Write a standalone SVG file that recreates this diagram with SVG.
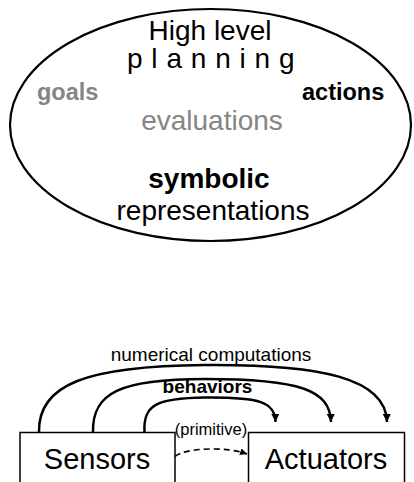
<svg xmlns="http://www.w3.org/2000/svg" width="414" height="482" viewBox="0 0 414 482">
  <style>
    text { font-family: "Liberation Sans", Arial, sans-serif; fill: #000; }
    .big { font-size: 28px; }
    .side { font-size: 23.5px; font-weight: bold; }
    .grey { fill: #858585; }
    .small { font-size: 19px; }
    .arc { fill: none; stroke: #000; stroke-width: 2.5; }
    .box { fill: #fff; stroke: #000; stroke-width: 1.5; }
  </style>
  <defs>
    <marker id="head" viewBox="0 0 10 10" refX="10" refY="5" markerWidth="9" markerHeight="8" markerUnits="userSpaceOnUse" orient="auto">
      <path d="M0,0 L10,5 L0,10 z" fill="#000"/>
    </marker>
    <marker id="headSmall" viewBox="0 0 10 10" refX="10" refY="5" markerWidth="7" markerHeight="7" markerUnits="userSpaceOnUse" orient="auto">
      <path d="M0,0 L10,5 L0,10 z" fill="#000"/>
    </marker>
  </defs>

  <!-- planning layer -->
  <g id="planning">
    <ellipse cx="210.5" cy="125" rx="200.5" ry="116" fill="none" stroke="#000" stroke-width="2.2"/>
    <text class="big" x="210" y="40" text-anchor="middle">High level</text>
    <text class="big" x="127" y="68" letter-spacing="8.8">planning</text>
    <text class="side grey" x="37" y="100">goals</text>
    <text class="side" x="302" y="100">actions</text>
    <text class="big grey" x="212" y="130" text-anchor="middle">evaluations</text>
    <text class="big" x="209" y="188" text-anchor="middle" font-weight="bold">symbolic</text>
    <text class="big" x="213" y="220" text-anchor="middle">representations</text>
  </g>

  <!-- connectors from sensors to actuators -->
  <g id="connectors">
    <path class="arc" d="M39,432 C38,385 85,366 205,365 C320,364 386,378 387,422" marker-end="url(#head)"/>
    <path class="arc" d="M93,432 C92,393 120,379 205,379 C300,379 330,390 331,422" marker-end="url(#head)"/>
    <path class="arc" d="M144.5,432 C143,406 155,398 205,397.5 C260,397 275,402 275.5,422" marker-end="url(#head)"/>
    <path d="M175,456.5 C185,448 225,446 247,454" fill="none" stroke="#000" stroke-width="1.6" stroke-dasharray="6,4" marker-end="url(#headSmall)"/>
    <text class="small" x="211" y="361" text-anchor="middle">numerical computations</text>
    <text class="small" x="207.5" y="393" text-anchor="middle" font-weight="bold">behaviors</text>
    <text x="211" y="435" text-anchor="middle" font-size="16.5">(primitive)</text>
  </g>

  <g id="sensors">
    <rect class="box" x="20" y="432.5" width="155" height="60"/>
    <text x="97" y="469" text-anchor="middle" font-size="29px">Sensors</text>
  </g>

  <g id="actuators">
    <rect class="box" x="248.5" y="432.5" width="156" height="60"/>
    <text x="326" y="469" text-anchor="middle" font-size="29px">Actuators</text>
  </g>
</svg>
